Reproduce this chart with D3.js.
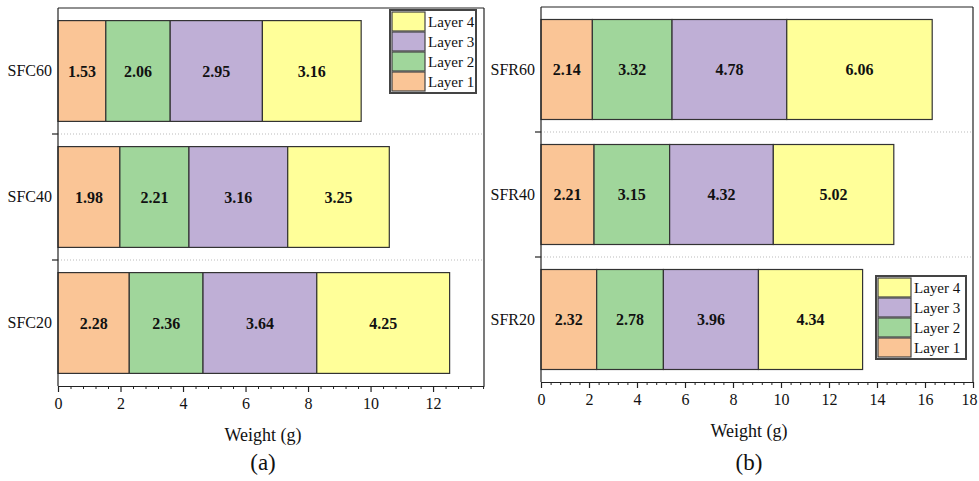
<!DOCTYPE html>
<html>
<head>
<meta charset="utf-8">
<script src="https://cdn.jsdelivr.net/npm/d3@7"></script>
<style>
  body { margin: 0; background: #fff; }
  svg { display: block; }
</style>
</head>
<body>
<div id="chart"></div>
<script>
// data
var layers = ["Layer 1", "Layer 2", "Layer 3", "Layer 4"];
var colors = ["#fac596", "#a0d69b", "#bfafd6", "#ffff99"];

var sfcCats = ["SFC60", "SFC40", "SFC20"];
var sfcLayer1 = [1.53, 1.98, 2.28];
var sfcLayer2 = [2.06, 2.21, 2.36];
var sfcLayer3 = [2.95, 3.16, 3.64];
var sfcLayer4 = [3.16, 3.25, 4.25];

var sfrCats = ["SFR60", "SFR40", "SFR20"];
var sfrLayer1 = [2.14, 2.21, 2.32];
var sfrLayer2 = [3.32, 3.15, 2.78];
var sfrLayer3 = [4.78, 4.32, 3.96];
var sfrLayer4 = [6.06, 5.02, 4.34];

var sfcTicks = [0, 2, 4, 6, 8, 10, 12];
var sfrTicks = [0, 2, 4, 6, 8, 10, 12, 14, 16, 18];

var FONT = "'Liberation Serif', 'Times New Roman', serif";

var svg = d3.select("#chart").append("svg")
    .attr("width", 979)
    .attr("height", 481);

function makePanel(cfg) {
    var g = svg.append("g");
    var x = d3.scaleLinear().domain([0, cfg.xmax]).range([cfg.left, cfg.right]);
    var y = d3.scaleBand().domain(cfg.cats).range([cfg.top, cfg.bottom])
        .paddingInner(0.2).paddingOuter(0.1);

    var rows = cfg.cats.map(function(c, i) {
        return [cfg.series[0][i], cfg.series[1][i], cfg.series[2][i], cfg.series[3][i]];
    });

    // dotted separators between categories
    var seps = cfg.cats.slice(1).map(function(c) { return y(c) - y.step() * 0.1; });
    g.selectAll(".sep").data(seps).enter().append("line")
        .attr("x1", cfg.left).attr("x2", cfg.right)
        .attr("y1", function(d) { return d; }).attr("y2", function(d) { return d; })
        .attr("stroke", "#bbb").attr("stroke-dasharray", "1,2");
    g.selectAll(".septick").data(seps).enter().append("line")
        .attr("x1", cfg.left - 6).attr("x2", cfg.left)
        .attr("y1", function(d) { return d; }).attr("y2", function(d) { return d; })
        .attr("stroke", "#222").attr("stroke-width", 1.2);

    // bars
    rows.forEach(function(vals, i) {
        var start = 0;
        vals.forEach(function(v, j) {
            var x0 = x(start), x1 = x(start + v);
            g.append("rect")
                .attr("x", x0).attr("y", y(cfg.cats[i]))
                .attr("width", x1 - x0).attr("height", y.bandwidth())
                .attr("fill", colors[j]).attr("stroke", "#333").attr("stroke-width", 1.2);
            g.append("text")
                .attr("x", (x0 + x1) / 2)
                .attr("y", y(cfg.cats[i]) + y.bandwidth() / 2)
                .attr("text-anchor", "middle").attr("dy", "0.35em")
                .style("font-family", FONT)
                .style("font-size", "16px").style("font-weight", "bold")
                .attr("fill", "#111")
                .text(v.toFixed(2));
            start += v;
        });
    });

    // frame top / right
    g.append("line").attr("x1", cfg.left).attr("x2", cfg.right)
        .attr("y1", cfg.top).attr("y2", cfg.top).attr("stroke", "#222").attr("stroke-width", 1.2);
    g.append("line").attr("x1", cfg.right).attr("x2", cfg.right)
        .attr("y1", cfg.top).attr("y2", cfg.bottom).attr("stroke", "#222").attr("stroke-width", 1.2);

    // y axis
    var ya = g.append("g").attr("transform", "translate(" + cfg.left + ",0)")
        .call(d3.axisLeft(y).tickSize(0).tickPadding(6));
    ya.select(".domain").attr("stroke", "#222").attr("stroke-width", 1.2)
        .attr("d", "M0," + cfg.top + "V" + cfg.bottom);
    ya.selectAll("text").style("font-size", "16px").style("font-family", FONT).attr("fill", "#111");

    // x axis minor ticks
    var minor = d3.range(0, cfg.xmax + 0.001, 0.4).filter(function(d) {
        return Math.abs(d / 2 - Math.round(d / 2)) > 0.01;
    });
    var xm = g.append("g").attr("transform", "translate(0," + cfg.bottom + ")")
        .call(d3.axisBottom(x).tickValues(minor).tickSize(3).tickFormat(""));
    xm.select(".domain").remove();
    xm.selectAll("line").attr("stroke", "#222");

    var xa = g.append("g").attr("transform", "translate(0," + cfg.bottom + ")")
        .call(d3.axisBottom(x).tickValues(cfg.ticks).tickSize(6).tickPadding(6).tickSizeOuter(0));
    xa.select(".domain").attr("stroke", "#222").attr("stroke-width", 1.2);
    xa.selectAll("line").attr("stroke", "#222").attr("stroke-width", 1.2);
    xa.selectAll("text").style("font-size", "16px").style("font-family", FONT).attr("fill", "#111")
        .attr("dx", function(d) { return x(d) + 8 > 979 ? -4 : 0; });

    // axis title and panel label
    var cx = (cfg.left + cfg.right) / 2 - 8;
    g.append("text").attr("x", cx).attr("y", cfg.bottom + 55)
        .attr("text-anchor", "middle").style("font-family", FONT)
        .style("font-size", "18px").attr("fill", "#111").text("Weight (g)");
    g.append("text").attr("x", cx).attr("y", 470)
        .attr("text-anchor", "middle").style("font-family", FONT)
        .style("font-size", "23px").attr("fill", "#111").text(cfg.label);

    // legend
    var lg = g.append("g").attr("transform", "translate(" + cfg.legX + "," + cfg.legY + ")");
    lg.append("rect").attr("width", cfg.legW).attr("height", 83)
        .attr("fill", "#fff").attr("stroke", "#444").attr("stroke-width", 2);
    var order = [3, 2, 1, 0];
    order.forEach(function(j, k) {
        lg.append("rect").attr("x", 2).attr("y", 2 + k * 20)
            .attr("width", 33).attr("height", 19)
            .attr("fill", colors[j]).attr("stroke", "#444").attr("stroke-width", 1.2);
        lg.append("text").attr("x", 38).attr("y", 12 + k * 20).attr("dy", "0.35em")
            .style("font-family", FONT).style("font-size", "15px").attr("fill", "#111")
            .text(layers[j]);
    });
}

makePanel({
    cats: sfcCats, series: [sfcLayer1, sfcLayer2, sfcLayer3, sfcLayer4],
    ticks: sfcTicks, xmax: 13.63,
    left: 58, right: 484, top: 8, bottom: 386,
    legX: 390, legY: 10, legW: 86, label: "(a)"
});
makePanel({
    cats: sfrCats, series: [sfrLayer1, sfrLayer2, sfrLayer3, sfrLayer4],
    ticks: sfrTicks, xmax: 18,
    left: 541, right: 973, top: 7, bottom: 382,
    legX: 876, legY: 276, legW: 90, label: "(b)"
});
</script>
</body>
</html>
